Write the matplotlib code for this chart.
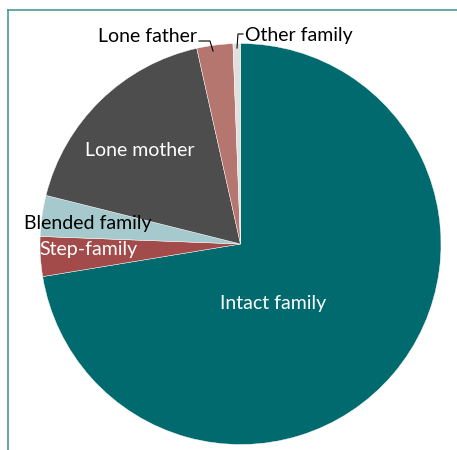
import matplotlib
matplotlib.use('Agg')
import matplotlib.pyplot as plt
from matplotlib.lines import Line2D

LABELS = ['Intact family', 'Step-family', 'Blended family', 'Lone mother', 'Lone father', 'Other family']
SHARES = [72.4, 3.2, 3.3, 17.6, 2.9, 0.6]
COLOURS = ['#006a6e', '#a34a4a', '#a5c9cc', '#4d4d4d', '#b57670', '#e2e0df']

plt.rcParams['font.family'] = ['Lato', 'DejaVu Sans']

fig = plt.figure(figsize=(4.57, 4.50), dpi=100)
ax = fig.add_axes([0, 0, 1, 1])

# pixel-like coords, y measured up from bottom
cx, cy, r = 240.5, 450 - 244, 200.5
ax.pie(SHARES, colors=COLOURS, startangle=90, counterclock=False,
       center=(cx, cy), radius=r, frame=True,
       wedgeprops={'edgecolor': 'white', 'linewidth': 0.3})
ax.set_xlim(0, 457)
ax.set_ylim(0, 450)
ax.set_aspect('equal')
ax.axis('off')

# frame lines top and left
frame = '#4a9a9c'
ax.add_line(Line2D([8, 457], [440, 440], color=frame, lw=1.2))
ax.add_line(Line2D([8, 8], [0, 440], color=frame, lw=1.2))

fs = 14
ax.text(273, 450 - 304, LABELS[0], color='white', fontsize=fs, ha='center', va='center')
ax.text(88, 450 - 249, LABELS[1], color='white', fontsize=fs, ha='center', va='center')
ax.text(88, 450 - 224, LABELS[2], color='black', fontsize=fs, ha='center', va='center')
ax.text(140, 450 - 151, LABELS[3], color='white', fontsize=fs, ha='center', va='center')
ax.text(197, 450 - 37, LABELS[4], color='black', fontsize=fs, ha='right', va='center')
ax.text(245, 450 - 35, LABELS[5], color='black', fontsize=fs, ha='left', va='center')

# leader lines
ax.add_line(Line2D([199, 210, 213], [450 - 41, 450 - 41, 450 - 51], color='black', lw=0.8))
ax.add_line(Line2D([243, 238, 237], [450 - 34, 450 - 34, 450 - 48], color='black', lw=0.8))

fig.savefig('out.png', dpi=100)
